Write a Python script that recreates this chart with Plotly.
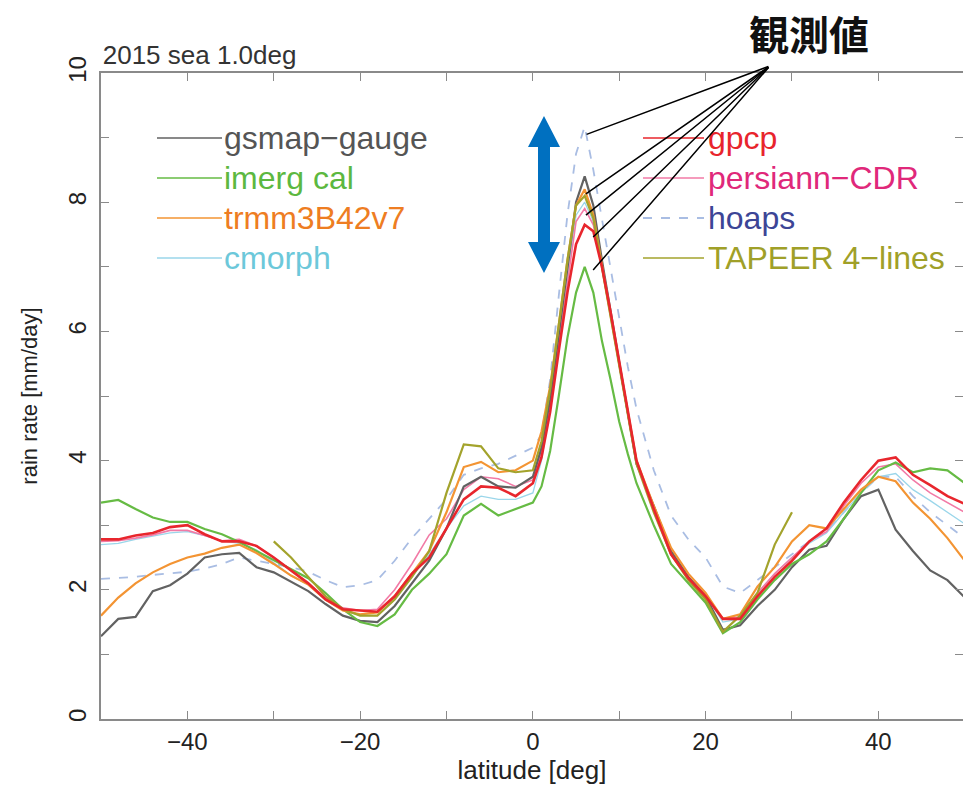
import plotly.graph_objects as go

# ---------------- data ----------------
LAT = [-50, -48, -46, -44, -42, -40, -38, -36, -34, -32, -30, -28, -26, -24, -22,
       -20, -18, -16, -14, -12, -10, -8, -6, -4, -2, 0, 1, 2, 3, 4, 5, 6, 7, 8, 9,
       10, 11, 12, 14, 16, 18, 20, 22, 24, 26, 28, 30, 32, 34, 36, 38, 40, 42, 44,
       46, 48, 50]

GSMAP = [1.28, 1.55, 1.58, 1.98, 2.07, 2.25, 2.5, 2.55, 2.57, 2.35, 2.27, 2.12, 1.98, 1.78, 1.6,
         1.52, 1.5, 1.75, 2.1, 2.45, 2.95, 3.6, 3.75, 3.6, 3.58, 3.75, 4.2, 4.95, 5.95, 7.0, 8.0, 8.4, 7.95, 7.1, 6.3,
         5.5, 4.7, 3.95, 3.3, 2.6, 2.2, 1.9, 1.38, 1.45, 1.75, 2.0, 2.35, 2.62, 2.68, 3.1, 3.45, 3.55, 2.93, 2.6,
         2.3, 2.15, 1.88]

IMERG = [3.35, 3.39, 3.25, 3.12, 3.05, 3.05, 2.94, 2.86, 2.74, 2.6, 2.45, 2.32, 2.18, 1.95, 1.7,
         1.5, 1.44, 1.62, 2.0, 2.25, 2.55, 3.15, 3.33, 3.15, 3.25, 3.35, 3.6, 4.15, 5.0, 5.9, 6.6, 7.0, 6.6, 5.85, 5.25,
         4.6, 4.1, 3.65, 3.0, 2.4, 2.1, 1.8, 1.33, 1.5, 1.85, 2.15, 2.4, 2.55, 2.75, 3.1, 3.5, 3.85, 3.97, 3.82,
         3.88, 3.85, 3.65]

TRMM = [1.6, 1.88, 2.1, 2.27, 2.4, 2.5, 2.56, 2.65, 2.7, 2.57, 2.4, 2.22, 2.08, 1.85, 1.68,
        1.62, 1.65, 1.9, 2.25, 2.6, 3.2, 3.9, 3.98, 3.82, 3.85, 4.0, 4.45, 5.15, 6.1, 7.1, 7.95, 8.2, 7.8, 7.0, 6.25,
        5.5, 4.75, 4.0, 3.3, 2.65, 2.25, 1.95, 1.55, 1.62, 2.05, 2.35, 2.75, 3.0, 2.95, 3.25, 3.55, 3.75, 3.68, 3.35,
        3.1, 2.8, 2.45]

CMORPH = [2.7, 2.72, 2.78, 2.83, 2.88, 2.9, 2.84, 2.76, 2.72, 2.62, 2.42, 2.22, 2.08, 1.85, 1.7,
          1.6, 1.6, 1.85, 2.2, 2.55, 2.95, 3.3, 3.45, 3.4, 3.4, 3.5, 4.0, 4.8, 5.8, 6.9, 7.8, 8.0, 7.7, 7.0, 6.25,
          5.45, 4.7, 3.95, 3.25, 2.55, 2.2, 1.92, 1.5, 1.55, 1.95, 2.25, 2.5, 2.72, 2.88, 3.2, 3.5, 3.75, 3.8, 3.55,
          3.38, 3.2, 3.02]

GPCP = [2.78, 2.78, 2.84, 2.88, 2.97, 3.0, 2.86, 2.75, 2.75, 2.68, 2.5, 2.3, 2.1, 1.85, 1.7,
        1.68, 1.66, 1.9, 2.25, 2.5, 2.95, 3.4, 3.6, 3.58, 3.45, 3.65, 4.05, 4.75, 5.7, 6.6, 7.35, 7.65, 7.55, 7.0, 6.3,
        5.55, 4.75, 4.0, 3.25, 2.55, 2.18, 1.9, 1.55, 1.55, 1.9, 2.2, 2.45, 2.75, 2.95, 3.35, 3.7, 4.0, 4.05, 3.78,
        3.62, 3.45, 3.33]

PERSIANN = [2.75, 2.76, 2.8, 2.85, 2.92, 2.92, 2.84, 2.76, 2.78, 2.68, 2.5, 2.3, 2.1, 1.88, 1.72,
            1.68, 1.7, 2.0, 2.4, 2.85, 3.1, 3.55, 3.75, 3.72, 3.6, 3.7, 4.15, 4.85, 5.8, 6.8, 7.7, 7.9, 7.65, 7.0, 6.3,
            5.5, 4.75, 4.0, 3.25, 2.55, 2.2, 1.92, 1.55, 1.58, 1.95, 2.25, 2.5, 2.75, 2.9, 3.3, 3.65, 3.9, 3.95, 3.7,
            3.5, 3.35, 3.2]

HOAPS = [2.17, 2.18, 2.2, 2.23, 2.26, 2.28, 2.33, 2.4, 2.5, 2.45, 2.4, 2.35, 2.28, 2.15, 2.04,
         2.07, 2.15, 2.45, 2.8, 3.1, 3.4, 3.78, 3.88, 3.95, 4.08, 4.2, 4.4, 5.25, 6.55, 7.8, 8.75, 9.17, 8.5, 7.75, 6.95,
         6.2, 5.45, 4.8, 3.85, 3.15, 2.78, 2.5, 2.05, 1.95, 2.15, 2.35, 2.55, 2.75, 2.9, 3.2, 3.5, 3.75, 3.75, 3.45,
         3.2, 3.0, 2.8]

TAPEER = [None, None, None, None, None, None, None, None, None, None, 2.75, 2.5, 2.2, 1.9, 1.7,
          1.6, 1.6, 1.85, 2.2, 2.6, 3.5, 4.25, 4.22, 3.88, 3.82, 3.85, 4.3, 5.1, 6.1, 7.1, 7.95, 8.1, 7.75, 7.0, 6.25,
          5.5, 4.75, 3.95, 3.2, 2.55, 2.15, 1.85, 1.35, 1.6, 1.95, 2.7, 3.2, None, None, None, None, None, None, None,
          None, None, None]

NAMES = ["gsmap−gauge", "imerg cal", "trmm3B42v7", "cmorph",
         "gpcp", "persiann−CDR", "hoaps", "TAPEER 4−lines"]

TITLE = "2015 sea 1.0deg"
NOTE = "観測値"

# ---------------- styles ----------------
FONT = "Liberation Sans, Arial, sans-serif"
STYLE = {
    "gsmap−gauge":    dict(y=GSMAP,    color="#626262", width=2.2, dash="solid", text="#555555"),
    "imerg cal":      dict(y=IMERG,    color="#66bb44", width=2.2, dash="solid", text="#5cb840"),
    "trmm3B42v7":     dict(y=TRMM,     color="#f39433", width=2.2, dash="solid", text="#ee7d22"),
    "cmorph":         dict(y=CMORPH,   color="#9ad6ea", width=1.3, dash="solid", text="#6cc8da"),
    "gpcp":           dict(y=GPCP,     color="#e8262d", width=2.6, dash="solid", text="#e8242c"),
    "persiann−CDR":   dict(y=PERSIANN, color="#f27aa6", width=1.6, dash="solid", text="#e0287a"),
    "hoaps":          dict(y=HOAPS,    color="#a9bde3", width=1.8, dash="dash",  text="#3c4596"),
    "TAPEER 4−lines": dict(y=TAPEER,   color="#a3a32c", width=2.2, dash="solid", text="#a0a028"),
}
DRAW_ORDER = ["hoaps", "cmorph", "persiann−CDR", "gsmap−gauge", "imerg cal",
              "trmm3B42v7", "TAPEER 4−lines", "gpcp"]

W, H = 963, 786
PL, PR, PT, PB = 101, 963, 73, 719  # plot area in pixels


def fx(px):
    return (px - PL) / (PR - PL)


def fy(py):
    return (PB - py) / (PB - PT)


fig = go.Figure()
for name in DRAW_ORDER:
    s = STYLE[name]
    fig.add_trace(go.Scatter(
        x=LAT, y=s["y"], name=name, mode="lines", showlegend=False,
        line=dict(color=s["color"], width=s["width"], dash=s["dash"]),
        connectgaps=False,
    ))

# legend drawn as colored labels
rows = [138, 178, 218, 258]
for i, name in enumerate(NAMES):
    s = STYLE[name]
    col = i // 4
    r = rows[i % 4]
    lx0, lx1, tx = (157, 222, 222) if col == 0 else (643, 704, 706)
    fig.add_shape(type="line", xref="paper", yref="paper",
                  x0=fx(lx0), x1=fx(lx1), y0=fy(r), y1=fy(r),
                  line=dict(color=s["color"], width=1.6 if s["dash"] == "solid" else 1.8,
                            dash=s["dash"]))
    fig.add_annotation(xref="paper", yref="paper", x=fx(tx), y=fy(r),
                       xanchor="left", yanchor="middle", showarrow=False,
                       text=name, font=dict(family=FONT, size=32, color=s["text"]))

# annotation "観測値" with pointer lines
fig.add_annotation(xref="paper", yref="paper", x=fx(809), y=fy(33),
                   xanchor="center", yanchor="middle", showarrow=False,
                   text=NOTE, font=dict(family="Noto Sans CJK JP", size=40,
                                        color="#111111", weight="bold"))
APEX = (27.44, 10.11)
TARGETS = [(6.22, 9.05), (6.14, 8.13), (6.14, 7.80), (6.98, 7.46), (6.98, 6.95)]
for (tx_, ty_) in TARGETS:
    fig.add_annotation(x=tx_, y=ty_, xref="x", yref="y", ax=APEX[0], ay=APEX[1],
                       axref="x", ayref="y", text="", showarrow=True,
                       arrowhead=0, arrowwidth=1.5, arrowcolor="#000000",
                       standoff=0, startstandoff=0)

# blue double arrow
cx, top, bot, hw, hh, sw = 544, 116, 273, 16, 31, 6
pts = [(cx, top), (cx + hw, top + hh), (cx + sw, top + hh), (cx + sw, bot - hh),
       (cx + hw, bot - hh), (cx, bot), (cx - hw, bot - hh), (cx - sw, bot - hh),
       (cx - sw, top + hh), (cx - hw, top + hh)]
path = "M " + " L ".join(f"{fx(a):.5f},{fy(b):.5f}" for a, b in pts) + " Z"
fig.add_shape(type="path", xref="paper", yref="paper", path=path,
              fillcolor="#0070c0", line=dict(width=0))

axis_common = dict(
    showline=True, linecolor="#8a8a8a", linewidth=1.5, mirror="ticks",
    ticks="inside", ticklen=8, tickwidth=1.2, tickcolor="#8a8a8a",
    showgrid=False, zeroline=False, automargin=False,
    tickfont=dict(family=FONT, size=24, color="#222222"),
)

fig.update_layout(
    width=W, height=H,
    margin=dict(l=PL, r=W - PR, t=PT, b=H - PB, pad=0),
    paper_bgcolor="white", plot_bgcolor="white",
    title=dict(text=TITLE, xref="paper", x=0.002, xanchor="left",
               yref="paper", y=1.0, yanchor="bottom", pad=dict(b=9, l=0),
               font=dict(family=FONT, size=26, color="#333333")),
    xaxis=dict(range=[-50, 49.8], dtick=20, tick0=0,
               minor=dict(dtick=10, tick0=0, ticks="inside", ticklen=8, tickcolor="#8a8a8a"),
               title=dict(text="latitude [deg]", standoff=4,
                          font=dict(family=FONT, size=26, color="#222222")),
               **axis_common),
    yaxis=dict(range=[0, 10], dtick=2, tick0=0, tickangle=-90, ticklabelstandoff=4,
               minor=dict(dtick=1, tick0=0, ticks="inside", ticklen=8, tickcolor="#8a8a8a"),
               title=dict(text="rain rate [mm/day]", standoff=20,
                          font=dict(family=FONT, size=22, color="#222222")),
               **axis_common),
)

fig.write_html("out.html")
